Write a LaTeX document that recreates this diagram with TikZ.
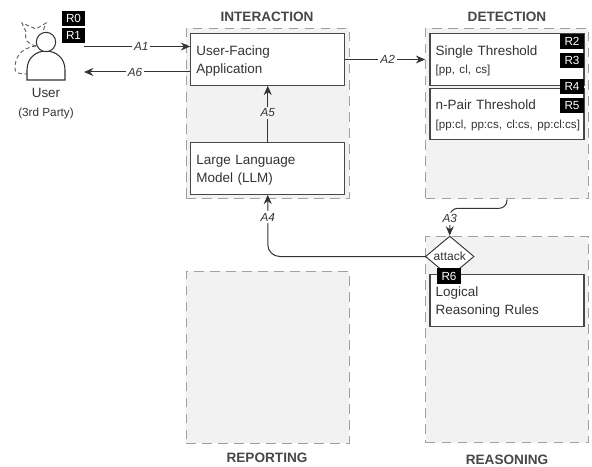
\documentclass[tikz,border=0pt]{standalone}
\usepackage{xcolor}
\usepackage{fontspec}
\setmainfont{Liberation Sans}
\usetikzlibrary{arrows, arrows.meta, shapes, shapes.geometric, positioning, calc}
\definecolor{panelgray}{RGB}{242,242,242}
\definecolor{dashgray}{RGB}{160,160,160}
\definecolor{inkgray}{RGB}{51,51,51}
\tikzstyle{arrow} = [line width=0.75pt,-{Stealth[length=7pt,width=6pt]},draw=inkgray]
\tikzset{
  panel/.style={draw=dashgray, fill=panelgray, line width=0.75pt, dash pattern=on 7pt off 5pt, minimum width=122pt, inner sep=0pt},
  title/.style={font=\fontsize{10.2}{12}\selectfont\bfseries, text=inkgray!90},
  box/.style={draw=inkgray!90, fill=white, line width=0.9pt, minimum width=115.5pt, minimum height=38.5pt, inner sep=0pt, text width=107pt, align=left, text=inkgray, font=\fontsize{10.1}{13}\selectfont, execute at begin node=\rule{0pt}{9.5pt}},
  badge/.style={fill=black, text=white, minimum width=17.5pt, minimum height=11.5pt, inner sep=0pt, font=\fontsize{8.8}{10}\selectfont},
  alabel/.style={fill=#1, inner sep=1.5pt, text=inkgray, font=\fontsize{8.8}{10}\selectfont\itshape},
  alabel/.default=white,
  usershape/.style={draw=inkgray, line width=0.8pt, fill=white},
  shadowline/.style={draw=dashgray!60!black, line width=0.7pt, dash pattern=on 3pt off 2pt}
}
\newcommand{\smalltxt}[1]{\mbox{\fontsize{8.7}{10}\selectfont #1}}
\begin{document}
\begin{tikzpicture}[x=0.75pt,y=-0.75pt]
  \useasboundingbox (0,0) rectangle (592,467);
  % panels
  \node[panel, minimum height=128pt] (interaction) at (267.75,113.5) {};
  \node[panel, minimum height=128pt] (detection) at (507,113.5) {};
  \node[panel, minimum height=129pt] (reporting) at (267.75,357) {};
  \node[panel, minimum height=155pt] (reasoning) at (507,339.5) {};
  \node[title] (interactiontitle) at (267,16.5) {INTERACTION};
  \node[title] (detectiontitle) at (507,16.5) {DETECTION};
  \node[title] (reportingtitle) at (267,457.5) {REPORTING};
  \node[title] (reasoningtitle) at (507,459.5) {REASONING};
  % boxes
  \node[box] (app) at (267.75,59.5) {User-Facing\\Application};
  \node[box] (llm) at (267.75,168.5) {Large Language\\Model (LLM)};
  \node[box] (single) at (507,59.5) {Single Threshold\\[1pt]\smalltxt{[pp, cl, cs]}};
  \node[box] (npair) at (507,114) {n-Pair Threshold\\[1pt]\smalltxt{[pp:cl, pp:cs, cl:cs, pp:cl:cs]}};
  \node[box] (rules) at (507,300.5) {Logical\\Reasoning Rules};
  \node[diamond, draw=inkgray, fill=white, line width=0.7pt, minimum width=36.5pt, minimum height=30pt, inner sep=0pt, text=inkgray, font=\fontsize{9}{10}\selectfont] (attack) at (449.75,256.5) {attack};
  % user
  \draw[shadowline] (36,46) .. controls (20,48) and (15,58) .. (15,68) .. controls (15,72) and (16,74) .. (27,74);
  \draw[shadowline] (36,46) .. controls (28,44) and (24,40) .. (26,32);
  \draw[shadowline] (26,32) -- (22,23) -- (36,29) -- (46,23) -- (43,31);
  \draw[usershape] (27,80) -- (27,70) .. controls (27,58) and (36,51) .. (46,51) .. controls (56,51) and (65,58) .. (65,70) -- (65,80) -- cycle;
  \node[circle, usershape, minimum size=14.5pt, inner sep=0pt] (head) at (46,42) {};
  \node[text=inkgray, font=\fontsize{10.1}{12}\selectfont] (user) at (46,93) {User};
  \node[text=inkgray, font=\fontsize{8.8}{10}\selectfont] (party) at (46,113) {(3rd Party)};
  \coordinate (usera) at (84,46.5);
  \coordinate (userb) at (84,72);
  % connectors
  \draw[arrow] (usera) -- node[alabel, pos=0.54] (aone) {A1} (usera -| app.west);
  \draw[arrow] (userb -| app.west) -- node[alabel, pos=0.52] (asix) {A6} (userb);
  \draw[arrow] (app.east) -- node[alabel, pos=0.53] (atwo) {A2} (app.east -| detection.west);
  \draw[arrow] (llm.north) -- node[alabel=panelgray, pos=0.52] (afive) {A5} (app.south);
  \draw[arrow, rounded corners=9pt] (attack.west) -| node[alabel, pos=0.82] (afour) {A4} (llm.south);
  \draw[arrow, rounded corners=6pt] (detection.south) -- ++(0,9) -| node[alabel, pos=0.69] (athree) {A3} (attack.north);
  % badges
  \node[badge] (r0) at (73.5,18.5) {R0};
  \node[badge] (r1) at (73.5,35.5) {R1};
  \node[badge] (r2) at (572,41.5) {R2};
  \node[badge] (r3) at (572,60.5) {R3};
  \node[badge] (r4) at (572,86.5) {R4};
  \node[badge] (r5) at (572,105.5) {R5};
  \node[badge] (r6) at (449,276) {R6};
\end{tikzpicture}
\end{document}
